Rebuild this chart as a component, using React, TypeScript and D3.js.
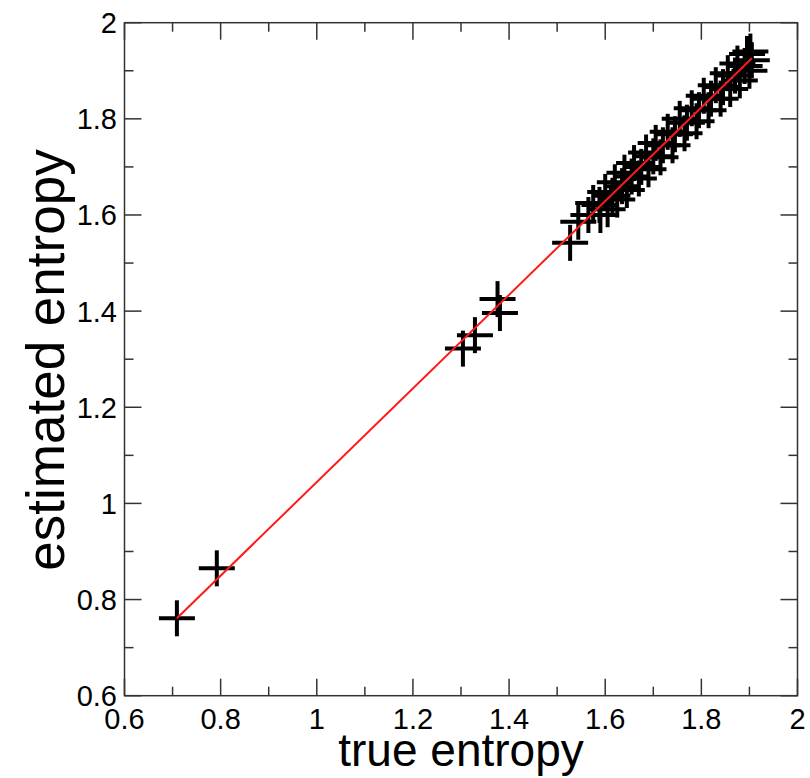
import React from "react";
import * as d3 from "d3";

const isolatedX = [0.709, 0.792, 1.304, 1.329, 1.376, 1.381, 1.527, 1.544];
const isolatedY = [0.761, 0.865, 1.322, 1.35, 1.425, 1.396, 1.542, 1.586];

const clusterX = [
  1.565, 1.575, 1.588, 1.59, 1.6, 1.605, 1.615, 1.62, 1.625, 1.635, 1.64, 1.645,
  1.655, 1.66, 1.67, 1.675, 1.685, 1.69, 1.7, 1.705, 1.715, 1.72, 1.73, 1.74,
  1.745, 1.755, 1.765, 1.77, 1.78, 1.79, 1.795, 1.805, 1.815, 1.82, 1.83, 1.84,
  1.845, 1.855, 1.86, 1.87, 1.875, 1.88, 1.89, 1.895, 1.9, 1.902, 1.905,
];
const clusterY = [
  1.6, 1.625, 1.621, 1.6, 1.648, 1.612, 1.64, 1.668, 1.632, 1.66, 1.688, 1.652,
  1.68, 1.708, 1.676, 1.7, 1.73, 1.695, 1.722, 1.75, 1.72, 1.745, 1.773, 1.745,
  1.768, 1.8, 1.77, 1.792, 1.822, 1.795, 1.818, 1.848, 1.818, 1.842, 1.87, 1.842,
  1.866, 1.895, 1.862, 1.89, 1.915, 1.88, 1.91, 1.935, 1.9, 1.94, 1.922,
];

const fitX = [0.709, 1.905];
const fitY = [0.761, 1.926];

const xTicks = [0.6, 0.8, 1, 1.2, 1.4, 1.6, 1.8, 2];
const yTicks = [0.6, 0.8, 1, 1.2, 1.4, 1.6, 1.8, 2];
const minorTicks = [0.7, 0.9, 1.1, 1.3, 1.5, 1.7, 1.9];

const xTitle = "true entropy";
const yTitle = "estimated entropy";

const W = 810;
const H = 778;
const L = 124.5;
const R = 797.5;
const T = 22.7;
const B = 695.7;

export default function App() {
  const x = d3.scaleLinear().domain([0.6, 2]).range([L, R]);
  const y = d3.scaleLinear().domain([0.6, 2]).range([B, T]);
  const pts = [
    ...isolatedX.map((v, i) => [v, isolatedY[i]]),
    ...clusterX.map((v, i) => [v, clusterY[i]]),
  ];
  const line = d3
    .line<number>()
    .x((d, i) => x(fitX[i]))
    .y((d, i) => y(fitY[i]));
  const arm = 18;
  const axisColor = "#333";
  const major = 17;
  const minor = 9;
  const font = "'Liberation Sans', Arial, sans-serif";
  return (
    <svg
      width={W}
      height={H}
      style={{ position: "absolute", left: 0, top: 0, background: "#fff" }}
    >
      <rect x={0} y={0} width={W} height={H} fill="#fff" />
      <g stroke="#000" strokeWidth={4} strokeLinecap="butt">
        {pts.map(([px, py], i) => (
          <g key={i}>
            <line x1={x(px) - arm} x2={x(px) + arm} y1={y(py)} y2={y(py)} />
            <line x1={x(px)} x2={x(px)} y1={y(py) - arm} y2={y(py) + arm} />
          </g>
        ))}
      </g>
      <path d={line(fitX) || ""} stroke="#ff1a1a" strokeWidth={2} fill="none" />
      <rect x={L} y={T} width={R - L} height={B - T} fill="none" stroke={axisColor} strokeWidth={1.5} />
      <g stroke={axisColor} strokeWidth={1.5}>
        {xTicks.map((t) => (
          <g key={"xt" + t}>
            <line x1={x(t)} x2={x(t)} y1={B} y2={B - major} />
            <line x1={x(t)} x2={x(t)} y1={T} y2={T + major} />
          </g>
        ))}
        {minorTicks.map((t) => (
          <g key={"xm" + t}>
            <line x1={x(t)} x2={x(t)} y1={B} y2={B - minor} />
            <line x1={x(t)} x2={x(t)} y1={T} y2={T + minor} />
            <line x1={L} x2={L + minor} y1={y(t)} y2={y(t)} />
            <line x1={R} x2={R - minor} y1={y(t)} y2={y(t)} />
          </g>
        ))}
        {yTicks.map((t) => (
          <g key={"yt" + t}>
            <line x1={L} x2={L + major} y1={y(t)} y2={y(t)} />
            <line x1={R} x2={R - major} y1={y(t)} y2={y(t)} />
          </g>
        ))}
      </g>
      <g fontFamily={font} fontSize={29} fill="#000">
        {xTicks.map((t) => (
          <text key={"xl" + t} x={x(t)} y={729} textAnchor="middle">
            {String(t)}
          </text>
        ))}
        {yTicks.map((t) => (
          <text key={"yl" + t} x={117} y={y(t) + 10.5} textAnchor="end">
            {String(t)}
          </text>
        ))}
      </g>
      <text x={461} y={766} textAnchor="middle" fontFamily={font} fontSize={46} fill="#000">
        {xTitle}
      </text>
      <text
        transform={`translate(64, 360) rotate(-90)`}
        textAnchor="middle"
        fontFamily={font}
        fontSize={53}
        fill="#000"
      >
        {yTitle}
      </text>
    </svg>
  );
}
